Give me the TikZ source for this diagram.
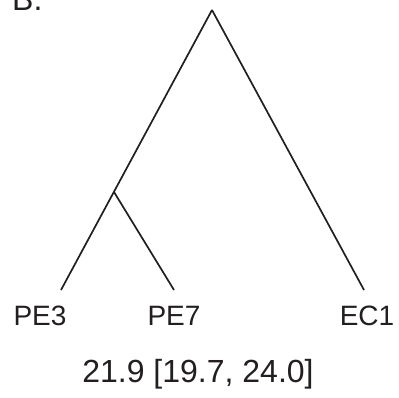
\documentclass[tikz,border=0pt]{standalone}
\usepackage{fontspec}
\setmainfont{Liberation Sans}
\usetikzlibrary{positioning}
\definecolor{treeink}{HTML}{231F20}

\begin{document}
\begin{tikzpicture}[
      x=1pt, y=-1pt,
      every node/.style={text=treeink, inner sep=0pt},
      branch/.style={draw=treeink, line width=1.7pt},
      leaf/.style={font=\fontsize{28}{30}\selectfont, anchor=base},
      est/.style={font=\fontsize{32}{34}\selectfont, anchor=base},
    ]
    \clip (0,0) rectangle (399,398);
    \fill[white] (0,0) rectangle (399,398);

    % panel letter, cut at the top edge
    \node[est, anchor=base west] (panel) at (12,11) {B.};

    % tree points
    \coordinate (root) at (212,10);
    \coordinate (pejoin) at (114,192);
    \coordinate (pe3tip) at (61,290);
    \coordinate (pe7tip) at (174,290);
    \coordinate (ec1tip) at (364,290);

    \node[leaf] (pe3) at (40,325) {PE3};
    \node[leaf] (pe7) at (174,325) {PE7};
    \node[leaf] (ec1) at (367,325) {EC1};

    \draw[branch] (root) -- (pe3tip);
    \draw[branch] (pejoin) -- (pe7tip);
    \draw[branch] (root) -- (ec1tip);

    % divergence estimate
    \node[est] (age) at (198,382) {21.9 [19.7, 24.0]};
  \end{tikzpicture}
\end{document}
